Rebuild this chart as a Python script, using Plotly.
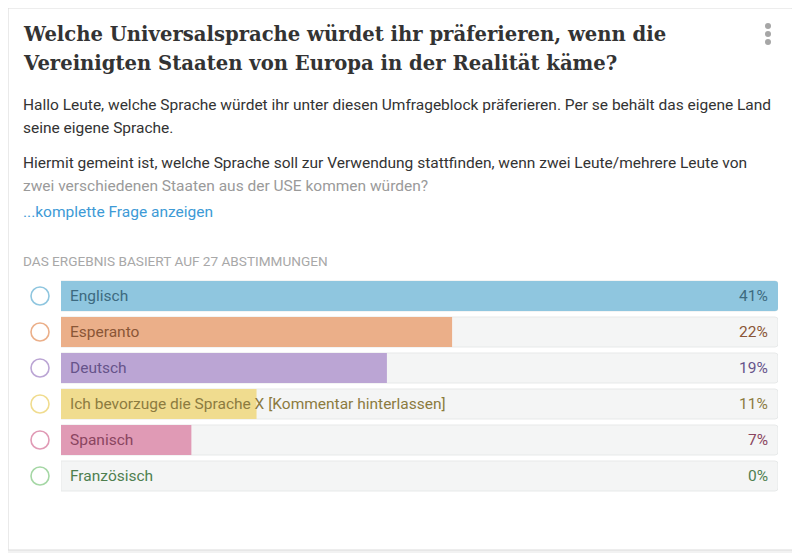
import plotly.graph_objects as go

# page body has an 8px default margin; lay out in window pixels and compensate
OX, OY = 8, 8
W, H = 800 - OX, 553 - OY

options = ["Englisch", "Esperanto", "Deutsch",
           "Ich bevorzuge die Sprache X [Kommentar hinterlassen]", "Spanisch", "Französisch"]
votes = [11, 6, 5, 3, 2, 0]
total_votes = 27
bar_colors = ["#8fc6df", "#ebaf89", "#bba5d4", "#f0dc8f", "#e09ab5", "#a5d7a5"]
text_colors = ["#3d6a80", "#8a5636", "#66538a", "#8c7b3f", "#8a4560", "#4f7f4f"]

title_lines = ["Welche Universalsprache würdet ihr präferieren, wenn die",
               "Vereinigten Staaten von Europa in der Realität käme?"]
body_lines = ["Hallo Leute, welche Sprache würdet ihr unter diesen Umfrageblock präferieren. Per se behält das eigene Land",
              "seine eigene Sprache.",
              "Hiermit gemeint ist, welche Sprache soll zur Verwendung stattfinden, wenn zwei Leute/mehrere Leute von",
              "zwei verschiedenen Staaten aus der USE kommen würden?"]
link_text = "...komplette Frage anzeigen"
summary = "DAS ERGEBNIS BASIERT AUF 27 ABSTIMMUNGEN"

maxv = max(votes)
pct = [f"{round(100 * v / total_votes)}%" for v in votes]


def px(x):
    return (x - OX) / W


def py(y):
    return 1 - (y - OY) / H


fig = go.Figure()
# background tracks
fig.add_trace(go.Bar(
    y=options, x=[maxv] * len(options), orientation="h",
    marker=dict(color="#f4f5f5", line=dict(color="#e7e9e9", width=1)),
    hoverinfo="skip", showlegend=False))
# value bars
fig.add_trace(go.Bar(
    y=options, x=votes, orientation="h",
    marker=dict(color=bar_colors, line=dict(width=0)),
    showlegend=False))
# radio circles
fig.add_trace(go.Scatter(
    y=options, x=[0] * len(options), xaxis="x2", yaxis="y", mode="markers",
    marker=dict(symbol="circle-open", size=18, color=bar_colors, line=dict(width=1.6, color=bar_colors)),
    showlegend=False, hoverinfo="skip"))

ann = []
for o, c in zip(options, text_colors):
    ann.append(dict(xref="x", yref="y", x=0, y=o, text=o, showarrow=False,
                    xanchor="left", yanchor="middle", xshift=7,
                    font=dict(family="Roboto", size=15.5, color=c)))
for o, p, c in zip(options, pct, text_colors):
    ann.append(dict(xref="x", yref="y", x=maxv, y=o, text=p, showarrow=False,
                    xanchor="right", yanchor="middle", xshift=-8,
                    font=dict(family="Roboto", size=15.5, color=c)))

for i, t in enumerate(title_lines):
    ann.append(dict(xref="paper", yref="paper", x=px(21), y=py(34 + 29 * i), text=t,
                    showarrow=False, xanchor="left", yanchor="middle",
                    font=dict(family="DejaVu Serif", size=19.6, color="#333333", weight="bold")))

body_y = [105, 128, 163, 186]
body_c = ["#333333", "#333333", "#333333", "#9a9a9a"]
for t, yy, c in zip(body_lines, body_y, body_c):
    ann.append(dict(xref="paper", yref="paper", x=px(21), y=py(yy), text=t,
                    showarrow=False, xanchor="left", yanchor="middle",
                    font=dict(family="Roboto", size=15.5, color=c)))
ann.append(dict(xref="paper", yref="paper", x=px(21), y=py(212), text=link_text,
                showarrow=False, xanchor="left", yanchor="middle",
                font=dict(family="Roboto", size=15.5, color="#3d9ad6")))
ann.append(dict(xref="paper", yref="paper", x=px(21), y=py(261), text=summary,
                showarrow=False, xanchor="left", yanchor="middle",
                font=dict(family="Roboto", size=13.6, color="#a8a8a8")))

# card
r = 6
x0, y0, x1, y1 = px(8), py(8), px(797), py(550)
rx, ry = r / W, r / H
card_path = (f"M {x0},{y0} L {x1-rx},{y0} Q {x1},{y0} {x1},{y0-ry} "
             f"L {x1},{y1+ry} Q {x1},{y1} {x1-rx},{y1} L {x0},{y1} Z")
shapes = [dict(type="path", xref="paper", yref="paper", path=card_path,
               line=dict(color="#dcdcdc", width=1.2), fillcolor="#ffffff", layer="below")]
# menu dots
for k in range(3):
    cy = 26 + 8 * k
    shapes.append(dict(type="circle", xref="paper", yref="paper",
                       x0=px(765), x1=px(771), y0=py(cy - 3), y1=py(cy + 3),
                       fillcolor="#a6a6a6", line=dict(width=0)))

fig.update_layout(
    width=W, height=H, margin=dict(l=0, r=0, t=0, b=0),
    paper_bgcolor="#f2f2f2", plot_bgcolor="rgba(0,0,0,0)",
    barmode="overlay", bargap=6 / 36, barcornerradius=3,
    xaxis=dict(domain=[px(61), px(778)], range=[0, maxv], visible=False, fixedrange=True),
    xaxis2=dict(domain=[px(30), px(50)], range=[-1, 1], visible=False, anchor="y"),
    yaxis=dict(domain=[py(494), py(278)], categoryorder="array", categoryarray=options[::-1],
               range=[-0.5, len(options) - 0.5], autorange=False,
               visible=False, fixedrange=True),
    annotations=ann, shapes=shapes, showlegend=False,
)

fig.write_html("out.html")
